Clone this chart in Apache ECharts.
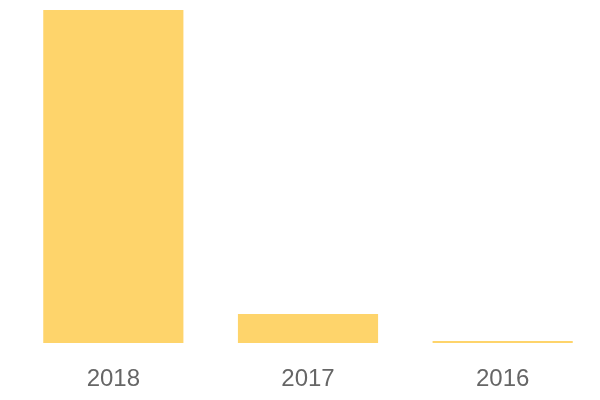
<!DOCTYPE html>
<html><head><meta charset="utf-8">
<script src="https://cdn.jsdelivr.net/npm/echarts@6/dist/echarts.min.js"></script>
<style>html,body{margin:0;padding:0;background:#fff}#c{width:600px;height:400px}</style>
</head><body><div id="c"></div>
<script>
var categories = ['2018', '2017', '2016'];
var values = [1000, 87, 6];
var chart = echarts.init(document.getElementById('c'));
chart.setOption({
  animation: false,
  grid: {left: 16, right: 0, top: 10, bottom: 57},
  xAxis: {
    type: 'category', data: categories,
    axisLine: {show: false}, axisTick: {show: false},
    axisLabel: {color: '#666', fontSize: 24, margin: 24, fontFamily: 'Liberation Sans'}
  },
  yAxis: {type: 'value', min: 0, max: values[0], show: false, splitLine: {show: false}},
  series: [{
    type: 'bar', data: values, barCategoryGap: '28%',
    itemStyle: {color: '#FED46B'}
  }]
});
</script></body></html>
